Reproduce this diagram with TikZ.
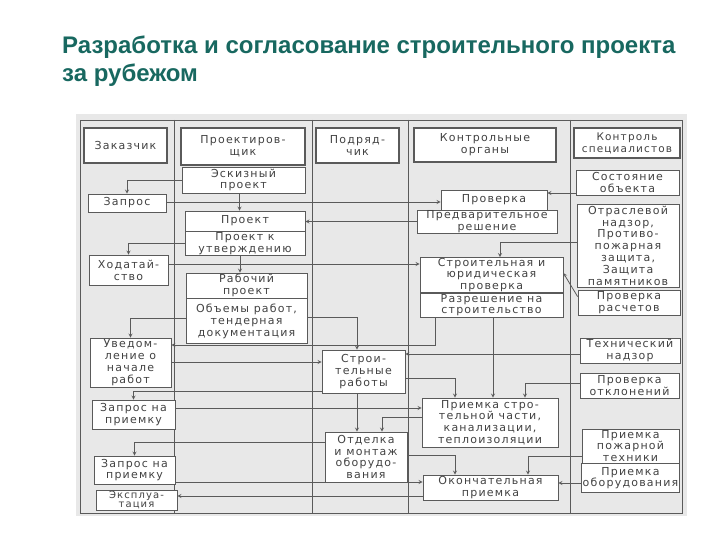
\documentclass[tikz,border=0pt]{standalone}
\usepackage{fontspec}
\setmainfont{Liberation Sans}
\newfontfamily\scanfont[LetterSpace=11]{DejaVu Sans}
\usepackage{tikz}
\usetikzlibrary{arrows, positioning}
\definecolor{titleteal}{RGB}{24,104,96}
\definecolor{linegray}{RGB}{90,90,90}
\definecolor{textgray}{RGB}{66,66,66}
\definecolor{scangray}{RGB}{232,232,232}

\begin{document}
\begin{tikzpicture}[
    x=1pt, y=-1pt,
    box/.style={draw=linegray, fill=white, line width=0.7pt, rectangle, inner sep=0.5pt, align=center, text=textgray, font=\scanfont\fontsize{11}{11.8}\selectfont},
    head/.style={box, line width=1.8pt},
    lane/.style={linegray, line width=0.9pt},
    arrow/.style={linegray, line width=0.8pt, ->, >=stealth}
]
\useasboundingbox (0,0) rectangle (720,540);

\node (title) [anchor=north west, align=left, inner sep=0pt, text=titleteal, font=\bfseries\fontsize{24}{28}\selectfont] at (62,36) {Разработка и согласование строительного проекта\\за рубежом};

% scanned sheet and lanes
\fill[scangray] (76,114) rectangle (687,516);
\draw[lane] (80,120) rectangle (682,513);
\foreach \x in {174,312,408,570}
    \draw[lane] (\x,120) -- (\x,513);

% headers
\node (hZak) [head, minimum width=83pt, minimum height=35pt] at (125.5,145.5) {Заказчик};
\node (hProj) [head, minimum width=124pt, minimum height=37pt] at (243,146.5) {Проектиров-\\щик};
\node (hPodr) [head, minimum width=83pt, minimum height=35pt] at (357.5,145.5) {Подряд-\\чик};
\node (hKontr) [head, minimum width=142pt, minimum height=34pt] at (485,145) {Контрольные\\органы};
\node (hSpec) [head, minimum width=106pt, minimum height=30pt, font=\scanfont\fontsize{10.5}{11.8}\selectfont] at (627,143) {Контроль\\специалистов};

% customer
\node (zapros) [box, minimum width=78pt, minimum height=18pt] at (127,203) {Запрос};
\node (hodat) [box, minimum width=79pt, minimum height=30pt] at (128.5,270) {Ходатай-\\ство};
\node (uved) [box, minimum width=81pt, minimum height=49pt] at (130.5,362.5) {Уведом-\\ление о\\начале\\работ};
\node (zapPr1) [box, minimum width=83pt, minimum height=29pt] at (133.5,414.5) {Запрос на\\приемку};
\node (zapPr2) [box, minimum width=81pt, minimum height=28pt] at (134.5,470) {Запрос на\\приемку};
\node (ekspl) [box, minimum width=81pt, minimum height=20pt, font=\scanfont\fontsize{10}{9}\selectfont] at (136.5,500) {Эксплуа-\\тация};

% designer
\node (eskiz) [box, minimum width=123pt, minimum height=26pt] at (243.5,180) {Эскизный\\проект};
\node (proekt) [box, minimum width=120pt, minimum height=20pt] at (245,221) {Проект};
\node (proektUtv) [box, minimum width=120pt, minimum height=24pt, below=0pt of proekt] {Проект к\\утверждению};
\node (rabProekt) [box, minimum width=121pt, minimum height=25pt] at (246.5,285.5) {Рабочий\\проект};
\node (obemy) [box, minimum width=121pt, minimum height=45pt, below=0pt of rabProekt] {Объемы работ,\\тендерная\\документация};

% contractor
\node (stroit) [box, minimum width=83pt, minimum height=43pt] at (363.5,371.5) {Строи-\\тельные\\работы};
\node (otdelka) [box, minimum width=82pt, minimum height=50pt] at (366,457) {Отделка\\и монтаж\\оборудо-\\вания};

% control bodies
\node (proverka) [box, minimum width=106pt, minimum height=20pt] at (494,200) {Проверка};
\node (predv) [box, minimum width=140pt, minimum height=23pt] at (487,221.5) {Предварительное\\решение};
\node (strYur) [box, minimum width=143pt, minimum height=34pt] at (491.5,275) {Строительная и\\юридическая\\проверка};
\node (razresh) [box, minimum width=143pt, minimum height=24pt, below=0pt of strYur] {Разрешение на\\строительство};
\node (priemka) [box, minimum width=136pt, minimum height=49pt] at (490,422.5) {Приемка стро-\\тельной части,\\канализации,\\теплоизоляции};
\node (okonch) [box, minimum width=135pt, minimum height=25pt] at (490.5,487.5) {Окончательная\\приемка};

% specialists
\node (sost) [box, minimum width=103pt, minimum height=25pt] at (627.5,182.5) {Состояние\\объекта};
\node (otrasl) [box, minimum width=102pt, minimum height=83pt] at (628,245.5) {Отраслевой\\надзор,\\Противо-\\пожарная\\защита,\\Защита\\памятников};
\node (provRasch) [box, minimum width=102pt, minimum height=25pt] at (629,302.5) {Проверка\\расчетов};
\node (tehn) [box, minimum width=100pt, minimum height=25pt] at (630,350.5) {Технический\\надзор};
\node (provOtkl) [box, minimum width=99pt, minimum height=25pt] at (629.5,385.5) {Проверка\\отклонений};
\node (prPozh) [box, minimum width=97pt, minimum height=34pt] at (630.5,446) {Приемка\\пожарной\\техники};
\node (prObor) [box, minimum width=98pt, minimum height=29pt, below=0pt of prPozh] {Приемка\\оборудования};

\draw [arrow] (eskiz.west) -| (zapros.north);
\draw [arrow] ([xshift=-4pt]eskiz.south) -- ([xshift=-4pt]eskiz.south |- proekt.north);
\draw [arrow] (zapros.east |- 0,202) -- (proverka.west |- 0,202);
\draw [arrow] (predv.west) -- (predv.west -| proekt.east);
\draw [arrow] (proektUtv.west) -| (hodat.north);
\draw [arrow] ([xshift=-5pt]proektUtv.south) -- ([xshift=-5pt]proektUtv.south |- rabProekt.north);
\draw [arrow] (hodat.east |- 0,264) -- (strYur.west |- 0,264);
\draw [arrow] (sost.west |- 0,193) -- (proverka.east |- 0,193);
\draw [arrow] (otrasl.west |- 0,242) -| ([xshift=8.5pt]strYur.north);
\draw [arrow] ([yshift=-7pt]provRasch.north west) -- ([yshift=2pt]strYur.east);
\draw [arrow] (obemy.west |- 0,318) -| (uved.north);
\draw [arrow] (obemy.east |- 0,317) -| ([xshift=-6.5pt]stroit.north);
\draw [arrow] ([xshift=-56.5pt]razresh.south) |- (uved.east |- 0,345);
\draw [arrow] (uved.east |- 0,362) -- (stroit.west |- 0,362);
\draw [arrow] (tehn.west |- 0,354) -- (stroit.east |- 0,354);
\draw [arrow] (stroit.east |- 0,378) -| ([xshift=-35pt]priemka.north);
\draw [arrow] ([xshift=1.5pt]razresh.south) -- ([xshift=1.5pt]razresh.south |- priemka.north);
\draw [arrow] (provOtkl.west |- 0,383) -| ([xshift=35pt]priemka.north);
\draw [arrow] ([xshift=-6.5pt]stroit.south) -- ([xshift=-6.5pt]stroit.south |- otdelka.north);
\draw [arrow] (stroit.west |- 0,391) -| (zapPr1.north);
\draw [arrow] (zapPr1.east |- 0,408) -- (priemka.west |- 0,408);
\draw [arrow] (priemka.west |- 0,417) -| ([xshift=16pt]otdelka.north);
\draw [arrow] (otdelka.west |- 0,442) -| (zapPr2.north);
\draw [arrow] (otdelka.east |- 0,455) -| ([xshift=-35.5pt]okonch.north);
\draw [arrow] (prPozh.west |- 0,456) -| ([xshift=37.5pt]okonch.north);
\draw [arrow] (zapPr2.east |- 0,482) -- (okonch.west |- 0,482);
\draw [arrow] (okonch.west |- 0,496) -- (ekspl.east |- 0,496);
\draw [arrow] (prObor.west |- 0,483) -- (okonch.east |- 0,483);

\end{tikzpicture}
\end{document}
